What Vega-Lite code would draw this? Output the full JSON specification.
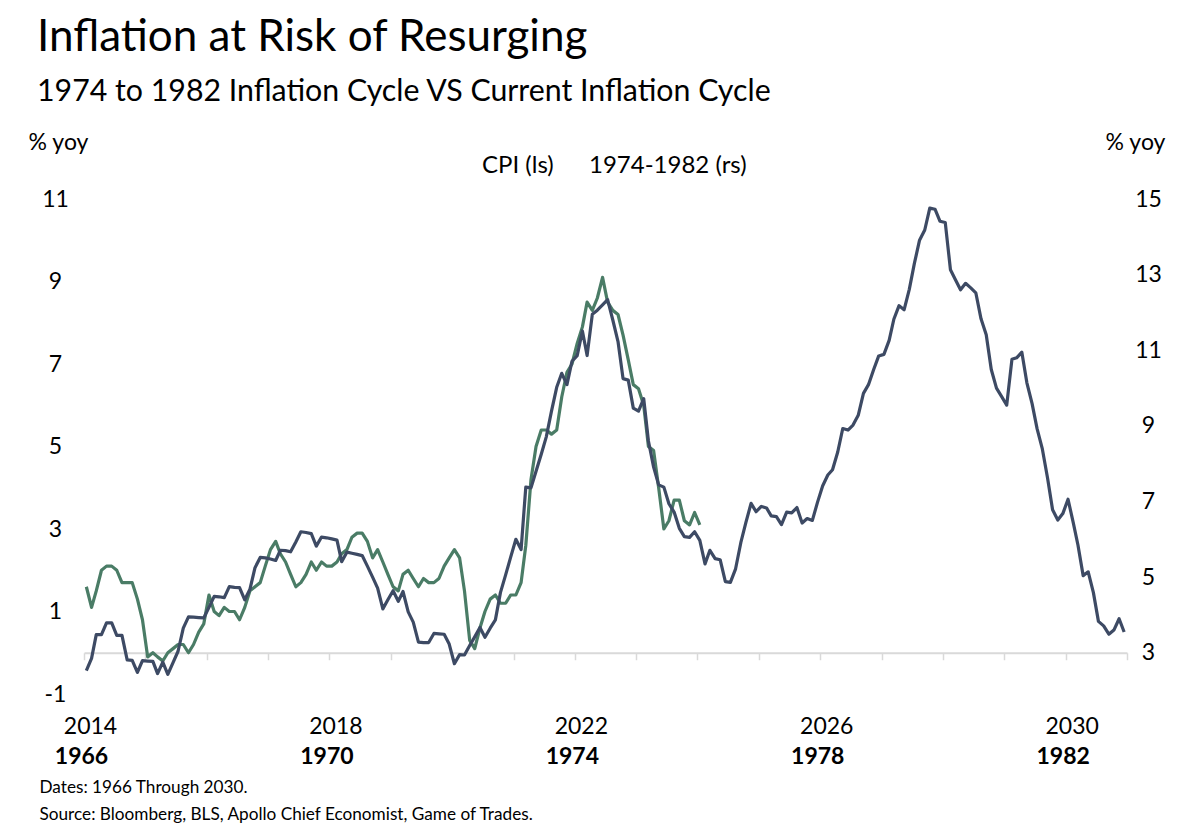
{
  "$schema": "https://vega.github.io/schema/vega-lite/v6.json",
  "width": 1043,
  "height": 495,
  "autosize": {"type": "none"},
  "padding": {"left": 84, "top": 199, "right": 73, "bottom": 135},
  "background": "white",
  "config": {"font": "Lato", "view": {"stroke": null}},
  "title": {
    "text": "Inflation at Risk of Resurging",
    "subtitle": "1974 to 1982 Inflation Cycle VS Current Inflation Cycle",
    "anchor": "start",
    "frame": "group",
    "font": "Lato",
    "fontSize": 44,
    "fontWeight": "normal",
    "color": "#000000",
    "subtitleFont": "Lato",
    "subtitleFontSize": 30.3,
    "subtitleColor": "#000000",
    "subtitlePadding": 16.5,
    "dx": -47,
    "offset": 24
  },
  "datasets": {
    "cpi": [
      {"date":"2014-01-15","yoy":1.6},{"date":"2014-02-15","yoy":1.1},{"date":"2014-03-15","yoy":1.5},{"date":"2014-04-15","yoy":2.0},{"date":"2014-05-15","yoy":2.1},{"date":"2014-06-15","yoy":2.1},{"date":"2014-07-15","yoy":2.0},{"date":"2014-08-15","yoy":1.7},{"date":"2014-09-15","yoy":1.7},{"date":"2014-10-15","yoy":1.7},{"date":"2014-11-15","yoy":1.3},{"date":"2014-12-15","yoy":0.8},
      {"date":"2015-01-15","yoy":-0.1},{"date":"2015-02-15","yoy":0.0},{"date":"2015-03-15","yoy":-0.1},{"date":"2015-04-15","yoy":-0.2},{"date":"2015-05-15","yoy":0.0},{"date":"2015-06-15","yoy":0.1},{"date":"2015-07-15","yoy":0.2},{"date":"2015-08-15","yoy":0.2},{"date":"2015-09-15","yoy":0.0},{"date":"2015-10-15","yoy":0.2},{"date":"2015-11-15","yoy":0.5},{"date":"2015-12-15","yoy":0.7},
      {"date":"2016-01-15","yoy":1.4},{"date":"2016-02-15","yoy":1.0},{"date":"2016-03-15","yoy":0.9},{"date":"2016-04-15","yoy":1.1},{"date":"2016-05-15","yoy":1.0},{"date":"2016-06-15","yoy":1.0},{"date":"2016-07-15","yoy":0.8},{"date":"2016-08-15","yoy":1.1},{"date":"2016-09-15","yoy":1.5},{"date":"2016-10-15","yoy":1.6},{"date":"2016-11-15","yoy":1.7},{"date":"2016-12-15","yoy":2.1},
      {"date":"2017-01-15","yoy":2.5},{"date":"2017-02-15","yoy":2.7},{"date":"2017-03-15","yoy":2.4},{"date":"2017-04-15","yoy":2.2},{"date":"2017-05-15","yoy":1.9},{"date":"2017-06-15","yoy":1.6},{"date":"2017-07-15","yoy":1.7},{"date":"2017-08-15","yoy":1.9},{"date":"2017-09-15","yoy":2.2},{"date":"2017-10-15","yoy":2.0},{"date":"2017-11-15","yoy":2.2},{"date":"2017-12-15","yoy":2.1},
      {"date":"2018-01-15","yoy":2.1},{"date":"2018-02-15","yoy":2.2},{"date":"2018-03-15","yoy":2.4},{"date":"2018-04-15","yoy":2.5},{"date":"2018-05-15","yoy":2.8},{"date":"2018-06-15","yoy":2.9},{"date":"2018-07-15","yoy":2.9},{"date":"2018-08-15","yoy":2.7},{"date":"2018-09-15","yoy":2.3},{"date":"2018-10-15","yoy":2.5},{"date":"2018-11-15","yoy":2.2},{"date":"2018-12-15","yoy":1.9},
      {"date":"2019-01-15","yoy":1.6},{"date":"2019-02-15","yoy":1.5},{"date":"2019-03-15","yoy":1.9},{"date":"2019-04-15","yoy":2.0},{"date":"2019-05-15","yoy":1.8},{"date":"2019-06-15","yoy":1.6},{"date":"2019-07-15","yoy":1.8},{"date":"2019-08-15","yoy":1.7},{"date":"2019-09-15","yoy":1.7},{"date":"2019-10-15","yoy":1.8},{"date":"2019-11-15","yoy":2.1},{"date":"2019-12-15","yoy":2.3},
      {"date":"2020-01-15","yoy":2.5},{"date":"2020-02-15","yoy":2.3},{"date":"2020-03-15","yoy":1.5},{"date":"2020-04-15","yoy":0.3},{"date":"2020-05-15","yoy":0.1},{"date":"2020-06-15","yoy":0.6},{"date":"2020-07-15","yoy":1.0},{"date":"2020-08-15","yoy":1.3},{"date":"2020-09-15","yoy":1.4},{"date":"2020-10-15","yoy":1.2},{"date":"2020-11-15","yoy":1.2},{"date":"2020-12-15","yoy":1.4},
      {"date":"2021-01-15","yoy":1.4},{"date":"2021-02-15","yoy":1.7},{"date":"2021-03-15","yoy":2.6},{"date":"2021-04-15","yoy":4.2},{"date":"2021-05-15","yoy":5.0},{"date":"2021-06-15","yoy":5.4},{"date":"2021-07-15","yoy":5.4},{"date":"2021-08-15","yoy":5.3},{"date":"2021-09-15","yoy":5.4},{"date":"2021-10-15","yoy":6.2},{"date":"2021-11-15","yoy":6.8},{"date":"2021-12-15","yoy":7.0},
      {"date":"2022-01-15","yoy":7.5},{"date":"2022-02-15","yoy":7.9},{"date":"2022-03-15","yoy":8.5},{"date":"2022-04-15","yoy":8.3},{"date":"2022-05-15","yoy":8.6},{"date":"2022-06-15","yoy":9.1},{"date":"2022-07-15","yoy":8.5},{"date":"2022-08-15","yoy":8.3},{"date":"2022-09-15","yoy":8.2},{"date":"2022-10-15","yoy":7.7},{"date":"2022-11-15","yoy":7.1},{"date":"2022-12-15","yoy":6.5},
      {"date":"2023-01-15","yoy":6.4},{"date":"2023-02-15","yoy":6.0},{"date":"2023-03-15","yoy":5.0},{"date":"2023-04-15","yoy":4.9},{"date":"2023-05-15","yoy":4.0},{"date":"2023-06-15","yoy":3.0},{"date":"2023-07-15","yoy":3.2},{"date":"2023-08-15","yoy":3.7},{"date":"2023-09-15","yoy":3.7},{"date":"2023-10-15","yoy":3.2},{"date":"2023-11-15","yoy":3.1},{"date":"2023-12-15","yoy":3.4},
      {"date":"2024-01-15","yoy":3.1}
    ],
    "hist": [
      {"date":"1966-01-15","yoy":2.53},{"date":"1966-02-15","yoy":2.85},{"date":"1966-03-15","yoy":3.48},{"date":"1966-04-15","yoy":3.48},{"date":"1966-05-15","yoy":3.79},{"date":"1966-06-15","yoy":3.79},{"date":"1966-07-15","yoy":3.46},{"date":"1966-08-15","yoy":3.46},{"date":"1966-09-15","yoy":2.81},{"date":"1966-10-15","yoy":2.80},{"date":"1966-11-15","yoy":2.48},{"date":"1966-12-15","yoy":2.79},
      {"date":"1967-01-15","yoy":2.78},{"date":"1967-02-15","yoy":2.77},{"date":"1967-03-15","yoy":2.45},{"date":"1967-04-15","yoy":2.75},{"date":"1967-05-15","yoy":2.43},{"date":"1967-06-15","yoy":2.74},{"date":"1967-07-15","yoy":3.04},{"date":"1967-08-15","yoy":3.65},{"date":"1967-09-15","yoy":3.95},{"date":"1967-10-15","yoy":3.94},{"date":"1967-11-15","yoy":3.93},{"date":"1967-12-15","yoy":3.92},
      {"date":"1968-01-15","yoy":4.20},{"date":"1968-02-15","yoy":4.49},{"date":"1968-03-15","yoy":4.48},{"date":"1968-04-15","yoy":4.46},{"date":"1968-05-15","yoy":4.75},{"date":"1968-06-15","yoy":4.73},{"date":"1968-07-15","yoy":4.72},{"date":"1968-08-15","yoy":4.40},{"date":"1968-09-15","yoy":4.68},{"date":"1968-10-15","yoy":5.25},{"date":"1968-11-15","yoy":5.52},{"date":"1968-12-15","yoy":5.51},
      {"date":"1969-01-15","yoy":5.48},{"date":"1969-02-15","yoy":5.44},{"date":"1969-03-15","yoy":5.71},{"date":"1969-04-15","yoy":5.70},{"date":"1969-05-15","yoy":5.67},{"date":"1969-06-15","yoy":5.93},{"date":"1969-07-15","yoy":6.20},{"date":"1969-08-15","yoy":6.18},{"date":"1969-09-15","yoy":6.15},{"date":"1969-10-15","yoy":5.82},{"date":"1969-11-15","yoy":6.06},{"date":"1969-12-15","yoy":6.04},
      {"date":"1970-01-15","yoy":6.01},{"date":"1970-02-15","yoy":5.98},{"date":"1970-03-15","yoy":5.41},{"date":"1970-04-15","yoy":5.66},{"date":"1970-05-15","yoy":5.63},{"date":"1970-06-15","yoy":5.60},{"date":"1970-07-15","yoy":5.57},{"date":"1970-08-15","yoy":5.29},{"date":"1970-09-15","yoy":5.00},{"date":"1970-10-15","yoy":4.71},{"date":"1970-11-15","yoy":4.16},{"date":"1970-12-15","yoy":4.40},
      {"date":"1971-01-15","yoy":4.64},{"date":"1971-02-15","yoy":4.36},{"date":"1971-03-15","yoy":4.62},{"date":"1971-04-15","yoy":4.08},{"date":"1971-05-15","yoy":3.81},{"date":"1971-06-15","yoy":3.28},{"date":"1971-07-15","yoy":3.27},{"date":"1971-08-15","yoy":3.27},{"date":"1971-09-15","yoy":3.51},{"date":"1971-10-15","yoy":3.50},{"date":"1971-11-15","yoy":3.49},{"date":"1971-12-15","yoy":3.23},
      {"date":"1972-01-15","yoy":2.71},{"date":"1972-02-15","yoy":2.95},{"date":"1972-03-15","yoy":2.94},{"date":"1972-04-15","yoy":3.19},{"date":"1972-05-15","yoy":3.42},{"date":"1972-06-15","yoy":3.67},{"date":"1972-07-15","yoy":3.41},{"date":"1972-08-15","yoy":3.65},{"date":"1972-09-15","yoy":3.87},{"date":"1972-10-15","yoy":4.59},{"date":"1972-11-15","yoy":5.06},{"date":"1972-12-15","yoy":5.53},
      {"date":"1973-01-15","yoy":6.00},{"date":"1973-02-15","yoy":5.73},{"date":"1973-03-15","yoy":7.38},{"date":"1973-04-15","yoy":7.36},{"date":"1973-05-15","yoy":7.80},{"date":"1973-06-15","yoy":8.25},{"date":"1973-07-15","yoy":8.71},{"date":"1973-08-15","yoy":9.39},{"date":"1973-09-15","yoy":10.02},{"date":"1973-10-15","yoy":10.39},{"date":"1973-11-15","yoy":10.09},{"date":"1973-12-15","yoy":10.71},
      {"date":"1974-01-15","yoy":10.86},{"date":"1974-02-15","yoy":11.51},{"date":"1974-03-15","yoy":10.86},{"date":"1974-04-15","yoy":11.95},{"date":"1974-05-15","yoy":12.06},{"date":"1974-06-15","yoy":12.20},{"date":"1974-07-15","yoy":12.34},{"date":"1974-08-15","yoy":11.80},{"date":"1974-09-15","yoy":11.23},{"date":"1974-10-15","yoy":10.25},{"date":"1974-11-15","yoy":10.21},{"date":"1974-12-15","yoy":9.47},
      {"date":"1975-01-15","yoy":9.39},{"date":"1975-02-15","yoy":9.72},{"date":"1975-03-15","yoy":8.60},{"date":"1975-04-15","yoy":7.91},{"date":"1975-05-15","yoy":7.44},{"date":"1975-06-15","yoy":7.38},{"date":"1975-07-15","yoy":6.94},{"date":"1975-08-15","yoy":6.72},{"date":"1975-09-15","yoy":6.29},{"date":"1975-10-15","yoy":6.07},{"date":"1975-11-15","yoy":6.05},{"date":"1975-12-15","yoy":6.20},
      {"date":"1976-01-15","yoy":5.97},{"date":"1976-02-15","yoy":5.35},{"date":"1976-03-15","yoy":5.71},{"date":"1976-04-15","yoy":5.49},{"date":"1976-05-15","yoy":5.46},{"date":"1976-06-15","yoy":4.88},{"date":"1976-07-15","yoy":4.86},{"date":"1976-08-15","yoy":5.22},{"date":"1976-09-15","yoy":5.91},{"date":"1976-10-15","yoy":6.44},{"date":"1976-11-15","yoy":6.95},{"date":"1976-12-15","yoy":6.73},
      {"date":"1977-01-15","yoy":6.87},{"date":"1977-02-15","yoy":6.83},{"date":"1977-03-15","yoy":6.62},{"date":"1977-04-15","yoy":6.60},{"date":"1977-05-15","yoy":6.39},{"date":"1977-06-15","yoy":6.72},{"date":"1977-07-15","yoy":6.70},{"date":"1977-08-15","yoy":6.84},{"date":"1977-09-15","yoy":6.43},{"date":"1977-10-15","yoy":6.55},{"date":"1977-11-15","yoy":6.50},{"date":"1977-12-15","yoy":6.97},
      {"date":"1978-01-15","yoy":7.41},{"date":"1978-02-15","yoy":7.70},{"date":"1978-03-15","yoy":7.84},{"date":"1978-04-15","yoy":8.31},{"date":"1978-05-15","yoy":8.93},{"date":"1978-06-15","yoy":8.89},{"date":"1978-07-15","yoy":9.02},{"date":"1978-08-15","yoy":9.28},{"date":"1978-09-15","yoy":9.86},{"date":"1978-10-15","yoy":10.09},{"date":"1978-11-15","yoy":10.49},{"date":"1978-12-15","yoy":10.85},
      {"date":"1979-01-15","yoy":10.89},{"date":"1979-02-15","yoy":11.26},{"date":"1979-03-15","yoy":11.82},{"date":"1979-04-15","yoy":12.18},{"date":"1979-05-15","yoy":12.07},{"date":"1979-06-15","yoy":12.61},{"date":"1979-07-15","yoy":13.29},{"date":"1979-08-15","yoy":13.91},{"date":"1979-09-15","yoy":14.18},{"date":"1979-10-15","yoy":14.76},{"date":"1979-11-15","yoy":14.73},{"date":"1979-12-15","yoy":14.41},
      {"date":"1980-01-15","yoy":14.38},{"date":"1980-02-15","yoy":13.13},{"date":"1980-03-15","yoy":12.87},{"date":"1980-04-15","yoy":12.60},{"date":"1980-05-15","yoy":12.77},{"date":"1980-06-15","yoy":12.65},{"date":"1980-07-15","yoy":12.52},{"date":"1980-08-15","yoy":11.83},{"date":"1980-09-15","yoy":11.41},{"date":"1980-10-15","yoy":10.49},{"date":"1980-11-15","yoy":10.00},{"date":"1980-12-15","yoy":9.78},
      {"date":"1981-01-15","yoy":9.55},{"date":"1981-02-15","yoy":10.76},{"date":"1981-03-15","yoy":10.80},{"date":"1981-04-15","yoy":10.95},{"date":"1981-05-15","yoy":10.14},{"date":"1981-06-15","yoy":9.59},{"date":"1981-07-15","yoy":8.92},{"date":"1981-08-15","yoy":8.39},{"date":"1981-09-15","yoy":7.62},{"date":"1981-10-15","yoy":6.78},{"date":"1981-11-15","yoy":6.51},{"date":"1981-12-15","yoy":6.68},
      {"date":"1982-01-15","yoy":7.06},{"date":"1982-02-15","yoy":6.44},{"date":"1982-03-15","yoy":5.85},{"date":"1982-04-15","yoy":5.04},{"date":"1982-05-15","yoy":5.14},{"date":"1982-06-15","yoy":4.59},{"date":"1982-07-15","yoy":3.83},{"date":"1982-08-15","yoy":3.71},{"date":"1982-09-15","yoy":3.49},{"date":"1982-10-15","yoy":3.60},{"date":"1982-11-15","yoy":3.90},{"date":"1982-12-15","yoy":3.55}
    ]
  },
  "layer": [
    {
      "data": {"name": "cpi"},
      "mark": {"type": "line", "strokeWidth": 3.2, "strokeJoin": "round"},
      "encoding": {
        "x": {
          "field": "date", "type": "temporal",
          "scale": {"type": "utc", "domain": [{"year": 2014, "month": 1, "date": 1, "utc": true}, {"year": 2031, "month": 1, "date": 1, "utc": true}], "nice": false},
          "axis": {
            "orient": "bottom", "offset": -41.25, "title": null, "grid": false,
            "domain": true, "domainColor": "#d9d9d9", "domainWidth": 2,
            "ticks": true, "tickColor": "#d9d9d9", "tickWidth": 1.5, "tickSize": 7,
            "tickCount": {"interval": "year", "step": 1},
            "format": "%Y",
            "labelExpr": "utcyear(datum.value) % 4 == 2 ? datum.label : ''",
            "labelFont": "Lato", "labelFontSize": 23, "labelColor": "#000000",
            "labelPadding": 56, "labelOffset": 6, "labelFlush": false, "labelOverlap": false, "labelBound": false
          }
        },
        "y": {
          "field": "yoy", "type": "quantitative",
          "scale": {"domain": [-1, 11], "nice": false, "zero": false},
          "axis": {
            "orient": "left", "values": [-1, 1, 3, 5, 7, 9, 11],
            "domain": false, "ticks": false, "grid": false,
            "labelExpr": "replace(datum.label, '\u2212', '-')",
            "labelFont": "Lato", "labelFontSize": 23, "labelColor": "#000000", "labelAlign": "center", "labelPadding": 29,
            "title": "% yoy", "titleFont": "Lato", "titleFontSize": 23, "titleFontWeight": "normal", "titleColor": "#000000",
            "titleAngle": 0, "titleAlign": "center", "titleBaseline": "middle", "titleX": -26, "titleY": -57
          }
        },
        "color": {
          "datum": "CPI (ls)", "type": "nominal",
          "scale": {"domain": ["CPI (ls)", "1974-1982 (rs)"], "range": ["#4a7c66", "#3d4a64"]},
          "legend": {
            "orient": "none", "legendX": 374, "legendY": -45, "direction": "horizontal", "title": null,
            "symbolType": "stroke", "symbolSize": 1, "symbolOpacity": 0, "symbolStrokeWidth": 0,
            "labelFont": "Lato", "labelFontSize": 24, "labelColor": "#000000", "labelOffset": 0,
            "columnPadding": 11, "padding": 0
          }
        }
      }
    },
    {
      "data": {"name": "hist"},
      "mark": {"type": "line", "strokeWidth": 3.2, "strokeJoin": "round"},
      "encoding": {
        "x": {
          "field": "date", "type": "temporal",
          "scale": {"type": "utc", "domain": [{"year": 1966, "month": 1, "date": 1, "utc": true}, {"year": 1983, "month": 1, "date": 1, "utc": true}], "nice": false},
          "axis": {
            "orient": "bottom", "grid": false, "domain": false, "ticks": false,
            "tickCount": {"interval": "year", "step": 1},
            "format": "%Y",
            "labelExpr": "utcyear(datum.value) % 4 == 2 ? datum.label : ''",
            "labelFont": "Lato", "labelFontSize": 23, "labelFontWeight": "bold", "labelColor": "#000000",
            "labelPadding": 51, "labelOffset": -3, "labelFlush": false, "labelOverlap": false, "labelBound": false,
            "title": ["Dates: 1966 Through 2030.", "Source: Bloomberg, BLS, Apollo Chief Economist, Game of Trades."],
            "titleFont": "Lato", "titleFontSize": 17.2, "titleFontWeight": "normal", "titleColor": "#000000",
            "titleAlign": "left", "titleAnchor": "start", "titleBaseline": "top", "titleLineHeight": 27,
            "titleX": -45, "titleY": 84
          }
        },
        "y": {
          "field": "yoy", "type": "quantitative",
          "scale": {"domain": [1.9091, 15], "nice": false, "zero": false},
          "axis": {
            "orient": "right", "values": [3, 5, 7, 9, 11, 13, 15],
            "domain": false, "ticks": false, "grid": false,
            "labelFont": "Lato", "labelFontSize": 23, "labelColor": "#000000", "labelAlign": "center", "labelPadding": 21,
            "title": "% yoy", "titleFont": "Lato", "titleFontSize": 23, "titleFontWeight": "normal", "titleColor": "#000000",
            "titleAngle": 0, "titleAlign": "center", "titleBaseline": "middle", "titleX": 8, "titleY": -57
          }
        },
        "color": {"datum": "1974-1982 (rs)", "type": "nominal"}
      }
    }
  ],
  "resolve": {
    "scale": {"x": "independent", "y": "independent", "color": "shared"},
    "axis": {"x": "independent", "y": "independent"}
  }
}
